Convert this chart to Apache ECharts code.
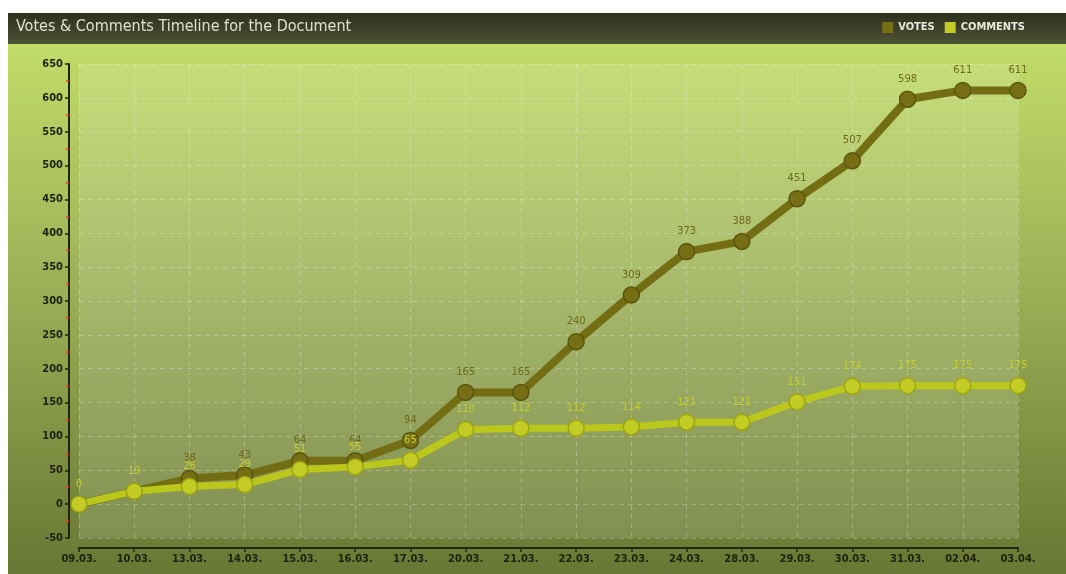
<!DOCTYPE html>
<html><head><meta charset="utf-8">
<script src="https://cdn.jsdelivr.net/npm/echarts@6/dist/echarts.min.js"></script>
<style>html,body{margin:0;padding:0;background:#fff}#c{width:1066px;height:574px}</style>
</head><body><div id="c"></div>
<script>
const titleText = 'Votes & Comments Timeline for the Document';
const categories = ['09.03.','10.03.','13.03.','14.03.','15.03.','16.03.','17.03.','20.03.','21.03.','22.03.','23.03.','24.03.','28.03.','29.03.','30.03.','31.03.','02.04.','03.04.'];
const votes = [0,19,38,43,64,64,94,165,165,240,309,373,388,451,507,598,611,611];
const comments = [0,19,26,29,51,55,65,110,112,112,114,121,121,151,174,175,175,175];
const yTicks = {min:-50, max:650, interval:50};

const chart = echarts.init(document.getElementById('c'), null, {renderer:'canvas'});
const font = 'DejaVu Sans Condensed, DejaVu Sans, sans-serif';
chart.setOption({
  animation:false,
  backgroundColor:'#ffffff',
  graphic:{elements:[
    {type:'rect', z:-100, shape:{x:8,y:13,width:1058,height:561},
     style:{fill:new echarts.graphic.LinearGradient(0,0,0,1,[{offset:0,color:'#c6e16a'},{offset:0.45,color:'#9fb459'},{offset:1,color:'#687733'}])}},
    {type:'rect', z:-99, shape:{x:8,y:13,width:1058,height:31},
     style:{fill:new echarts.graphic.LinearGradient(0,0,0,1,[{offset:0,color:'#2d311c'},{offset:1,color:'#4c5236'}])}},
    {type:'text', z:10, left:16, top:19, style:{text:titleText, fill:'#dfe2d2', font:'16px '+font}}
  ]},
  legend:{
    right:36, top:17, itemWidth:11, itemHeight:11, itemGap:10,
    icon:'rect',
    itemStyle:{borderWidth:0},
    textStyle:{color:'#e8eadc', fontSize:11, fontWeight:'bold', fontFamily:font},
    data:[{name:'VOTES'},{name:'COMMENTS'}]
  },
  grid:{left:79, right:48, top:64, bottom:36, show:true, borderWidth:0, backgroundColor:'rgba(255,255,255,0.13)'},
  xAxis:{
    type:'category', data:categories, boundaryGap:false, offset:10,
    axisLine:{onZero:false, lineStyle:{color:'#222412', width:2}},
    axisTick:{show:true, length:4, inside:false, lineStyle:{color:'#222412', width:1.5}},
    axisLabel:{color:'#1e2010', fontSize:11, fontWeight:'bold', fontFamily:font, margin:6},
    splitLine:{show:true, lineStyle:{color:'rgba(255,255,255,0.25)', type:[5,4], width:1}}
  },
  yAxis:{
    type:'value', min:yTicks.min, max:yTicks.max, interval:yTicks.interval, offset:10,
    axisLine:{show:true, lineStyle:{color:'#222412', width:2}},
    axisTick:{show:true, length:4, lineStyle:{color:'#222412', width:1.5}},
    minorTick:{show:true, splitNumber:2, length:3, lineStyle:{color:'#e0401a', width:1.5}},
    axisLabel:{color:'#1e2010', fontSize:11, fontWeight:'bold', fontFamily:font, margin:6},
    splitLine:{show:true, lineStyle:{color:'rgba(255,255,255,0.25)', type:[5,4], width:1}}
  },
  series:[
    {name:'VOTES', type:'line', data:votes, z:2,
     color:'#736d14',
     lineStyle:{width:8, color:'#736d14'},
     symbol:'circle', symbolSize:16,
     itemStyle:{color:'#766f15', borderColor:'#5a550c', borderWidth:1.5},
     label:{show:true, position:'top', distance:6, color:'#6e6918', fontSize:11, fontFamily:font,
       formatter:p => (p.dataIndex < 2 ? '' : p.value)}
    },
    {name:'COMMENTS', type:'line', data:comments, z:3,
     color:'#b9c41b',
     lineStyle:{width:7, color:'#bcc71c'},
     symbol:'circle', symbolSize:16,
     itemStyle:{color:'#c3cc24', borderColor:'#9ea512', borderWidth:1.5},
     label:{show:true, position:'top', distance:6, color:'#c6ce2c', fontSize:11, fontFamily:font}
    }
  ]
});
</script></body></html>
